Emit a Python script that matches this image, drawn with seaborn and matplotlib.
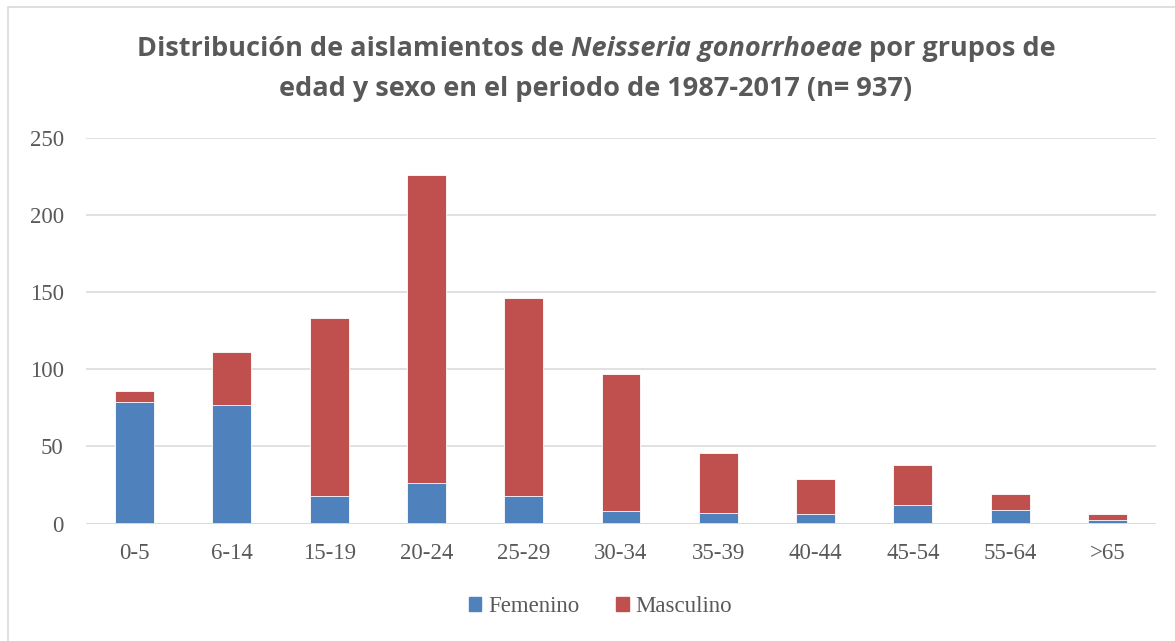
import matplotlib
matplotlib.use("Agg")
import matplotlib.pyplot as plt
import matplotlib.patches as mpatches
import seaborn as sns
import pandas as pd

grupos = ['0-5', '6-14', '15-19', '20-24', '25-29', '30-34',
          '35-39', '40-44', '45-54', '55-64', '>65']
femenino = [79, 77, 18, 26, 18, 8, 7, 6, 12, 9, 2]
masculino = [7, 34, 115, 200, 128, 89, 39, 23, 26, 10, 4]

azul = '#4F81BD'
rojo = '#C0504D'
gris_txt = '#595959'
gris_lin = '#D9D9D9'

df = pd.DataFrame({'grupo': grupos, 'Femenino': femenino, 'Masculino': masculino})
df['total'] = df['Femenino'] + df['Masculino']

sns.set_style('white')
plt.rcParams['font.family'] = ['Liberation Serif', 'DejaVu Serif']

fig = plt.figure(figsize=(11.75, 6.41), dpi=100)
ax = fig.add_axes([86 / 1175, 1 - 523.5 / 641, 1070 / 1175, 385.5 / 641])

# apilado: primero el total en rojo, encima el femenino en azul
sns.barplot(data=df, x='grupo', y='total', color=rojo, saturation=1, width=0.4,
            edgecolor='white', linewidth=0.6, ax=ax, zorder=3)
sns.barplot(data=df, x='grupo', y='Femenino', color=azul, saturation=1, width=0.4,
            edgecolor='white', linewidth=0.6, ax=ax, zorder=4)

ax.set_xlim(-0.5, len(grupos) - 0.5)
ax.set_ylim(0, 250)
ax.set_yticks(range(0, 251, 50))
ax.set_xlabel('')
ax.set_ylabel('')
for s in ax.spines.values():
    s.set_visible(False)
ax.grid(axis='y', color=gris_lin, linewidth=1.1, zorder=0)
ax.set_axisbelow(True)
ax.axhline(0, color=gris_lin, linewidth=1.4, zorder=5)
ax.tick_params(axis='both', length=0, labelsize=16.5, labelcolor=gris_txt)
ax.tick_params(axis='y', pad=16)
ax.tick_params(axis='x', pad=14)

handles = [mpatches.Patch(color=azul, label='Femenino'),
           mpatches.Patch(color=rojo, label='Masculino')]
fig.legend(handles=handles, loc='center', bbox_to_anchor=(0.511, 1 - 606.5 / 641),
           ncol=2, frameon=False, fontsize=16.5, labelcolor=gris_txt,
           handlelength=0.55, handleheight=0.55, handletextpad=0.3, columnspacing=1.6)

# titulo con parte en cursiva
tfont = dict(family=['Open Sans', 'DejaVu Sans'], weight='bold', size=19.5, color=gris_txt)
piezas = [('Distribución de aislamientos de ', 'normal'),
          ('Neisseria gonorrhoeae', 'italic'),
          (' por grupos de', 'normal')]
y1 = 1 - 48.5 / 641
textos = [fig.text(0, y1, p, style=st, ha='left', va='center', **tfont) for p, st in piezas]
rend = fig.canvas.get_renderer()
anchos = [t.get_window_extent(rend).width for t in textos]
x = 596 - sum(anchos) / 2
for t, w in zip(textos, anchos):
    t.set_x(x / 1175)
    x += w
fig.text(596 / 1175, 1 - 88.5 / 641, 'edad y sexo en el periodo de 1987-2017 (n= 937)',
         ha='center', va='center', **tfont)

fig.patches.append(mpatches.Rectangle((7.5 / 1175, -0.05), 1.2, 1.05 - 7.5 / 641,
                                      transform=fig.transFigure, fill=False,
                                      edgecolor=gris_lin, linewidth=1.2))

fig.savefig('out.png', dpi=100)
